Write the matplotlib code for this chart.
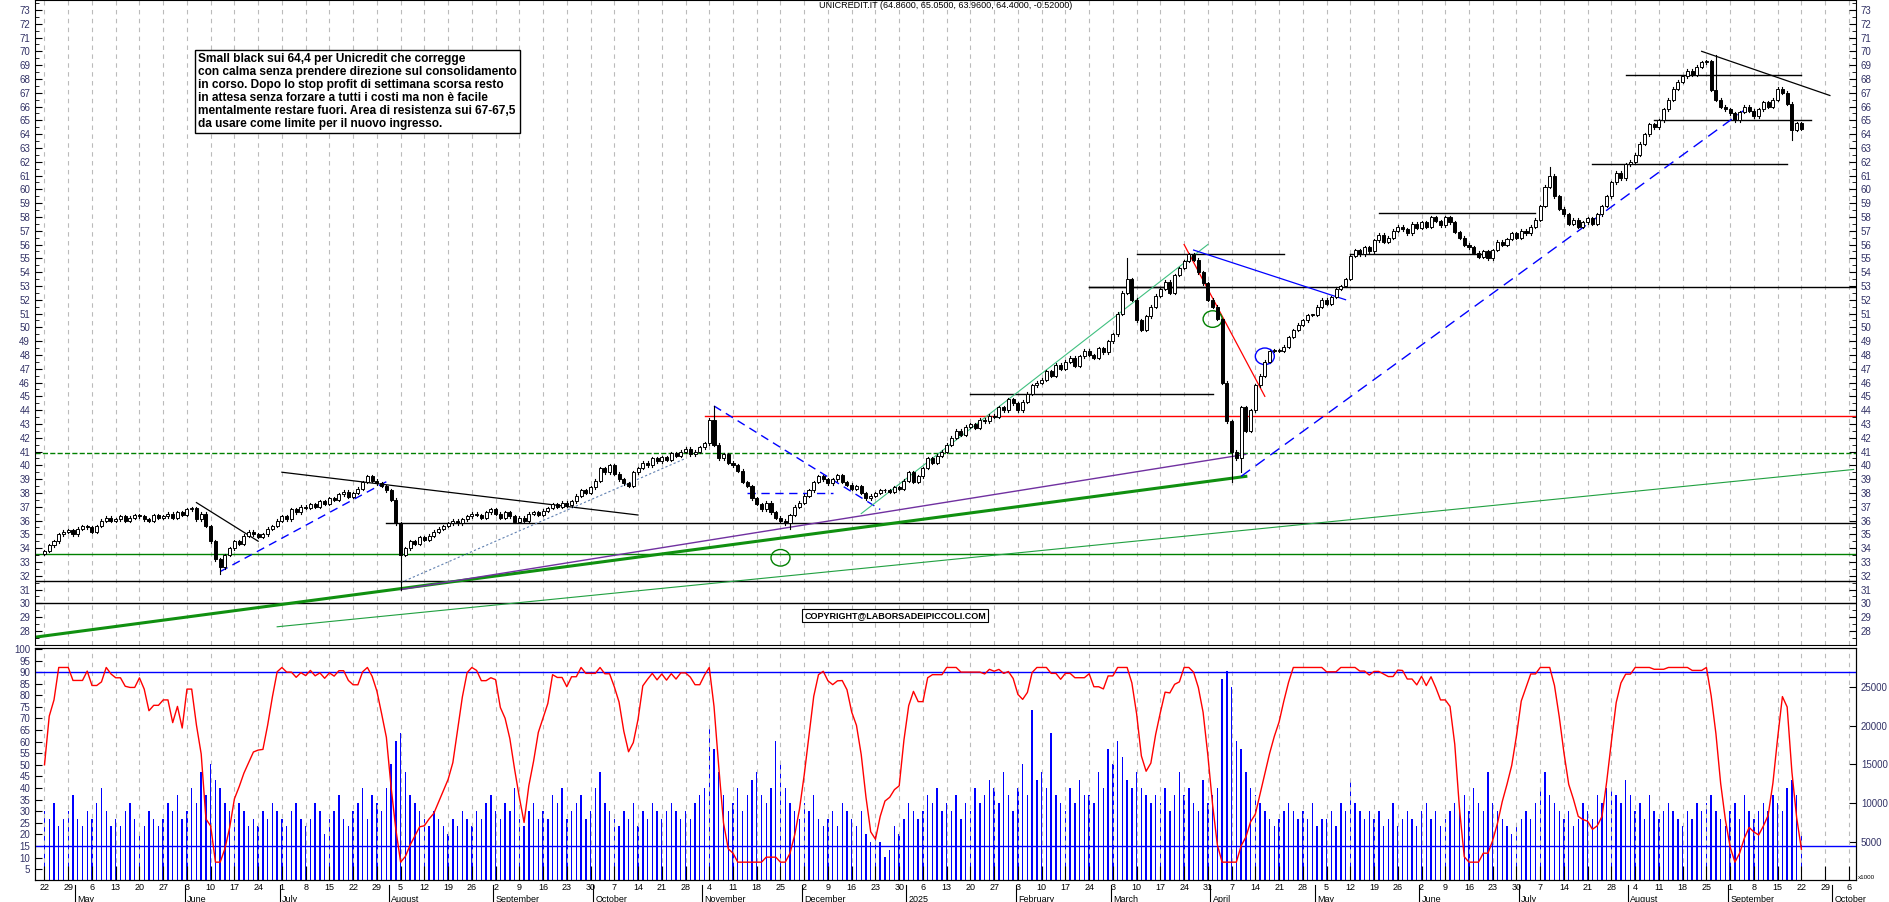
import numpy as np
import pandas as pd
import matplotlib
matplotlib.use("Agg")
import matplotlib.pyplot as plt
from matplotlib.patches import Rectangle, Ellipse

START = "2024-04-22"
closes = [
33.8,34.2,34.5,35.0,35.2, 35.3,35.0,35.4,35.6,35.5, 35.2,35.6,36.0,36.2,36.0, 36.1,36.3,36.0,36.2,36.4,
36.3,36.1,36.0,36.4,36.2, 36.3,36.5,36.2,36.6,36.4, 36.8,36.9,36.1,36.5,35.6, 34.5,33.2,32.6,33.5,34.0,
34.5,34.3,34.9,35.2,35.0, 34.8,35.0,35.4,35.6,36.0, 36.3,36.1,36.8,36.6,37.0, 36.9,37.2,37.0,37.4,37.2,
37.6,37.5,37.9,38.1,37.7, 38.0,38.3,38.8,39.2,38.9, 38.7,38.5,38.2,37.5,35.8, 33.5,34.0,34.5,34.3,34.8,
34.6,34.9,35.2,35.4,35.6, 35.8,36.0,35.8,36.1,36.3, 36.5,36.4,36.2,36.6,36.8, 36.5,36.2,36.6,36.3,35.9,
36.2,36.0,36.5,36.6,36.4, 36.7,36.9,37.2,37.0,37.3, 37.1,37.4,37.8,38.2,38.0, 38.4,38.9,39.8,39.5,40.0,
39.4,39.0,38.7,38.5,39.5, 39.8,40.2,40.0,40.5,40.3, 40.6,40.4,40.9,40.7,41.0, 41.2,40.8,41.0,41.3,41.6,
43.3,41.5,40.5,40.8,40.2, 40.0,39.6,38.8,38.5,37.6, 37.2,36.8,37.3,36.6,36.2, 36.0,35.8,36.4,37.0,37.3,
37.8,38.2,38.8,39.2,39.0, 38.7,39.0,39.3,38.8,38.6, 38.3,38.5,38.0,37.6,37.8, 38.0,38.2,38.2,38.1,38.4,
38.3,38.9,39.5,38.8,39.2, 39.8,40.5,40.2,40.7,41.0, 41.5,42.0,42.5,42.2,42.8, 43.0,42.7,43.3,43.2,43.6,
43.5,44.2,44.0,44.8,44.5, 44.0,44.6,45.2,45.8,46.0, 46.2,46.8,46.5,47.3,47.0, 47.5,47.8,47.2,47.9,48.3,
48.0,47.8,48.5,48.2,49.0, 49.5,51.0,52.5,53.5,52.0, 50.5,49.8,50.8,51.5,52.3, 52.8,53.3,52.5,53.8,54.3,
54.8,55.3,54.9,54.0,53.2, 52.0,51.5,50.6,46.0,43.2, 41.0,40.5,44.2,42.5,44.0, 45.8,46.5,47.5,48.3,48.3,
48.3,48.6,49.3,49.8,50.2, 50.5,50.9,50.9,51.5,52.0, 51.7,52.2,52.8,53.0,53.5, 55.2,55.6,55.3,55.8,55.5,
56.3,56.7,56.2,56.5,57.0, 57.3,57.1,56.8,57.5,57.2, 57.6,57.3,58.0,57.7,57.4, 58.0,57.6,56.9,56.5,56.0,
55.8,55.4,55.1,55.5,55.0, 55.6,56.2,56.0,56.4,56.8, 56.5,57.0,56.8,57.3,57.8, 58.8,60.2,61.0,59.5,58.6,
58.2,57.5,57.8,57.3,57.6, 57.9,57.5,58.2,58.8,59.5, 60.5,61.2,60.8,61.8,62.0, 62.5,63.3,64.0,64.7,64.5,
65.0,65.8,66.5,67.3,67.8, 68.2,68.6,68.3,68.9,69.2, 69.3,67.2,66.5,66.0,65.8, 65.5,65.0,65.6,66.0,65.7,
65.3,65.8,66.3,66.0,66.5, 67.3,67.0,66.2,64.3,64.8, 64.4]
volume_k = [
9,8,10,7,8, 9,11,8,7,9, 8,10,12,9,7, 8,7,9,10,8, 6,7,9,8,7, 8,10,9,11,8, 9,12,10,14,11, 15,13,12,10,9,
8,10,9,7,8, 7,9,8,10,9, 8,7,9,10,8, 7,8,10,9,6, 8,9,11,8,7, 9,10,12,8,11, 10,9,12,15,18, 19,14,11,10,9,
8,7,9,8,7, 6,8,7,9,8, 7,9,8,10,11, 9,8,10,9,12, 8,7,9,10,8, 9,8,11,10,12, 8,9,10,11,8, 9,12,14,10,9,
8,7,9,8,10, 7,9,8,10,9, 8,9,10,9,8, 9,8,10,11,12, 20,17,14,11,9, 10,12,9,11,13, 14,11,10,12,18, 15,12,10,9,8,
10,9,11,8,7, 8,9,7,10,9, 8,7,9,6,5, 6,5,3,4,7, 6,8,10,9,8, 9,11,10,12,9, 10,9,11,8,10, 9,12,10,11,13,
12,10,14,11,9, 12,15,11,22,13, 14,12,19,11,10, 9,12,10,13,11, 11,10,14,12,17, 15,18,16,13,12, 14,12,11,10,11, 10,12,9,11,14,
11,12,10,9,13, 10,11,12,26,27, 25,18,17,14,12, 11,10,9,8,7, 8,9,10,9,8, 9,8,10,7,8, 8,9,7,10,9, 13,10,9,8,9,
8,9,7,8,10, 7,8,9,8,7, 9,10,8,9,7, 8,9,10,9,11, 9,12,10,9,14, 10,9,8,7,6, 7,8,9,8,10, 12,14,11,10,9,
8,9,7,8,10, 9,8,11,10,12, 12,11,10,13,11, 9,10,8,11,9, 8,9,10,9,8, 7,9,8,10,9, 10,11,9,8,7, 9,10,8,11,9,
8,9,10,9,11, 10,9,12,13,11, 6]
notable_lows = {"2024-06-12": 32.1, "2024-08-05": 31.0, "2025-04-07": 38.8, "2025-04-09": 39.5,
                "2024-11-27": 35.4, "2025-09-18": 63.6}
notable_highs = {"2024-11-05": 44.3, "2025-03-06": 55.0, "2025-07-09": 61.6, "2025-08-27": 69.7}

# horizontal levels: (price, start date or None, end date or None, color, style, width)
hlines = [(30.0, None, None, "black", "-", 1.0), (31.6, None, None, "black", "-", 1.0),
          (33.6, None, None, "green", "-", 1.0), (40.9, None, None, "green", "--", 1.0),
          (35.8, "2024-07-31", None, "black", "-", 1.0), (43.6, "2024-11-01", None, "red", "-", 1.0),
          (52.9, "2025-02-24", None, "black", "-", 1.0), (45.2, "2025-01-20", "2025-04-01", "black", "-", 1.0),
          (52.9, "2025-02-24", "2025-03-31", "black", "-", 1.0), (55.3, "2025-03-10", "2025-04-22", "black", "-", 1.0),
          (55.3, "2025-05-12", "2025-06-20", "black", "-", 1.0), (58.3, "2025-05-20", "2025-07-04", "black", "-", 1.0),
          (68.3, "2025-07-31", "2025-09-22", "black", "-", 1.0), (65.0, "2025-08-08", "2025-09-24", "black", "-", 1.0),
          (61.8, "2025-07-22", "2025-09-17", "black", "-", 1.0), (38.0, "2024-11-14", "2024-12-10", "blue", (0, (6, 4)), 1.0)]
# trend lines: (d1, p1, d2, p2, color, style, width)
tlines = [("2024-04-17", 27.5, "2025-04-10", 39.2, "#109010", "-", 2.2),
          ("2024-06-28", 28.3, "2025-10-07", 39.7, "#20a040", "-", 0.8),
          ("2024-08-05", 31.0, "2025-04-10", 40.8, "#7030a0", "-", 1.0),
          ("2024-07-01", 39.5, "2024-10-14", 36.4, "black", "-", 0.9),
          ("2024-06-05", 37.3, "2024-06-24", 34.5, "black", "-", 0.9),
          ("2024-06-12", 32.3, "2024-08-01", 39.0, "blue", (0, (6, 4)), 1.0),
          ("2024-08-05", 31.5, "2024-10-28", 40.5, "#6080b0", (0, (2, 2)), 0.8),
          ("2024-11-05", 44.3, "2024-12-24", 36.8, "blue", (0, (6, 4)), 1.0),
          ("2024-12-18", 36.5, "2025-03-31", 56.0, "#40c080", "-", 0.8),
          ("2025-03-26", 55.6, "2025-05-09", 52.0, "blue", "-", 0.9),
          ("2025-03-24", 56.0, "2025-04-16", 45.0, "red", "-", 0.9),
          ("2025-04-09", 39.2, "2025-09-05", 66.0, "blue", (0, (8, 5)), 1.0),
          ("2025-08-22", 70.0, "2025-09-30", 66.8, "black", "-", 0.9)]
ellipses = [("2024-11-25", 33.3, "green"), ("2025-04-01", 50.6, "green"), ("2025-04-16", 47.9, "blue")]

months_it = {1: "2025", 2: "February", 3: "March", 4: "April", 5: "May", 6: "June", 7: "July",
             8: "August", 9: "September", 10: "October", 11: "November", 12: "December"}

dates = pd.bdate_range(START, periods=len(closes))
allw = pd.bdate_range("2024-04-15", "2025-10-10")
def xi(d):
    return int((allw.get_indexer([pd.Timestamp(d)])[0])) - int(allw.get_indexer([pd.Timestamp(START)])[0])

c = np.array(closes)
o = np.concatenate([[c[0] - 0.2], c[:-1]])
x = np.arange(len(c))
vol = np.array(volume_k) * 1000

# stochastic oscillator from closes
k = np.zeros(len(c))
for i in range(len(c)):
    w = c[max(0, i - 13):i + 1]
    rng = w.max() - w.min()
    k[i] = 50 if rng == 0 else (c[i] - w.min()) / rng * 100
ks = pd.Series(k).rolling(3, min_periods=1).mean().values
osc = 8 + ks * 0.84

plt.rcParams["font.family"] = "Liberation Sans"
fig = plt.figure(figsize=(18.9, 9.02), dpi=100)
L, R = 35 / 1890, 1856 / 1890
ax = fig.add_axes([L, 1 - 645 / 902, R - L, 645 / 902])
ax2 = fig.add_axes([L, 22 / 902, R - L, (880 - 648) / 902])
xmax = xi("2025-10-07") + 0.5
for a in (ax, ax2):
    a.set_xlim(-2, xmax)
ax.set_ylim(26.98, 73.72)

mondays = [i for i, d in enumerate(allw) if d.weekday() == 0]
base = allw.get_indexer([pd.Timestamp(START)])[0]
mon_x = [m - base for m in mondays if -2 <= m - base <= xmax]
for a in (ax, ax2):
    for mx in mon_x:
        a.axvline(mx, color="#bbbbbb", ls=(0, (4, 4)), lw=0.8, zorder=0)

# levels and trend lines
for p, d1, d2, col, ls, lw in hlines:
    x1 = -2 if d1 is None else xi(d1)
    x2 = xmax if d2 is None else xi(d2)
    ax.plot([x1, x2], [p, p], color=col, ls=ls, lw=lw, zorder=1)
for d1, p1, d2, p2, col, ls, lw in tlines:
    ax.plot([xi(d1), xi(d2)], [p1, p2], color=col, ls=ls, lw=lw, zorder=1)
for d, p, col in ellipses:
    ax.add_patch(Ellipse((xi(d), p), 4, 1.2, fill=False, edgecolor=col, lw=1.0, zorder=3))

# candles
hi = np.maximum(o, c); lo = np.minimum(o, c)
for i in range(len(c)):
    h, l = hi[i] + 0.1, lo[i] - 0.1
    ds = dates[i].strftime("%Y-%m-%d")
    l = notable_lows.get(ds, l); h = notable_highs.get(ds, h)
    ax.plot([x[i], x[i]], [l, h], color="black", lw=0.8, zorder=2)
    up = c[i] >= o[i]
    ax.add_patch(Rectangle((x[i] - 0.32, lo[i]), 0.64, max(hi[i] - lo[i], 0.04),
                           facecolor="white" if up else "black", edgecolor="black", lw=0.7, zorder=3))

ax.set_yticks(range(28, 74))
ax.tick_params(axis="y", labelsize=7, labelcolor="#333366", length=5, direction="in", labelleft=True, labelright=True, left=True, right=True)
ax.set_yticks(np.arange(27, 73.7, 0.5), minor=True)
ax.tick_params(axis="y", which="minor", length=3, direction="in", left=True, right=True)
ax.set_xticks([])
ax.text(0.5, 0.998, "UNICREDIT.IT (64.8600, 65.0500, 63.9600, 64.4000, -0.52000)", transform=ax.transAxes,
        ha="center", va="top", fontsize=6.5)
txt = ("Small black sui 64,4 per Unicredit che corregge\ncon calma senza prendere direzione sul consolidamento\n"
       "in corso. Dopo lo stop profit di settimana scorsa resto\nin attesa senza forzare a tutti i costi ma non è facile\n"
       "mentalmente restare fuori. Area di resistenza sui 67-67,5\nda usare come limite per il nuovo ingresso.")
fig.text(198 / 1890, 1 - 53 / 902, txt, ha="left", va="top", fontsize=8.6, fontweight="bold", linespacing=1.12,
         bbox=dict(boxstyle="square,pad=0.25", facecolor="white", edgecolor="black", lw=1))
ax.text(xi("2024-12-02"), 29.1, "COPYRIGHT@LABORSADEIPICCOLI.COM", fontsize=6.5, fontweight="bold", va="center",
        bbox=dict(boxstyle="square,pad=0.2", facecolor="white", edgecolor="black", lw=0.8), zorder=5)

# lower panel
ax2.set_ylim(0.3, 100.4)
axv = ax2.twinx()
axv.set_ylim(75, 30000)
axv.bar(x, vol, width=0.3, color="blue", zorder=1)
ax2.set_zorder(axv.get_zorder() + 1); ax2.patch.set_visible(False)
ax2.plot(x, osc, color="red", lw=1.0, zorder=3)
ax2.axhline(90, color="blue", lw=1.0); ax2.axhline(15, color="blue", lw=1.0)
ax2.set_yticks(range(5, 101, 5))
ax2.tick_params(axis="y", labelsize=7, labelcolor="#333366", direction="in", length=5)
axv.set_yticks([5000, 10000, 15000, 20000, 25000])
axv.tick_params(axis="y", labelsize=7, labelcolor="#333366", direction="in", length=5)
axv.text(1.001, 0.0, "x1000", transform=axv.transAxes, fontsize=4.5, va="bottom")

ax2.set_xticks(mon_x)
ax2.set_xticklabels([str(allw[m + base].day) for m in mon_x], fontsize=6.5)
ax2.tick_params(axis="x", length=10, direction="in", pad=2)
prev = None
for i, d in enumerate(allw):
    xx = i - base
    if xx < -2 or xx > xmax:
        continue
    if prev is not None and d.month != prev:
        ax2.text(xx, -0.085, months_it[d.month], transform=ax2.get_xaxis_transform(), fontsize=6.5, va="center", ha="left")
        ax2.plot([xx - 0.5, xx - 0.5], [-0.02, -0.1], transform=ax2.get_xaxis_transform(), color="black", lw=0.8, clip_on=False)
    prev = d.month

fig.savefig("out.png", dpi=100)
